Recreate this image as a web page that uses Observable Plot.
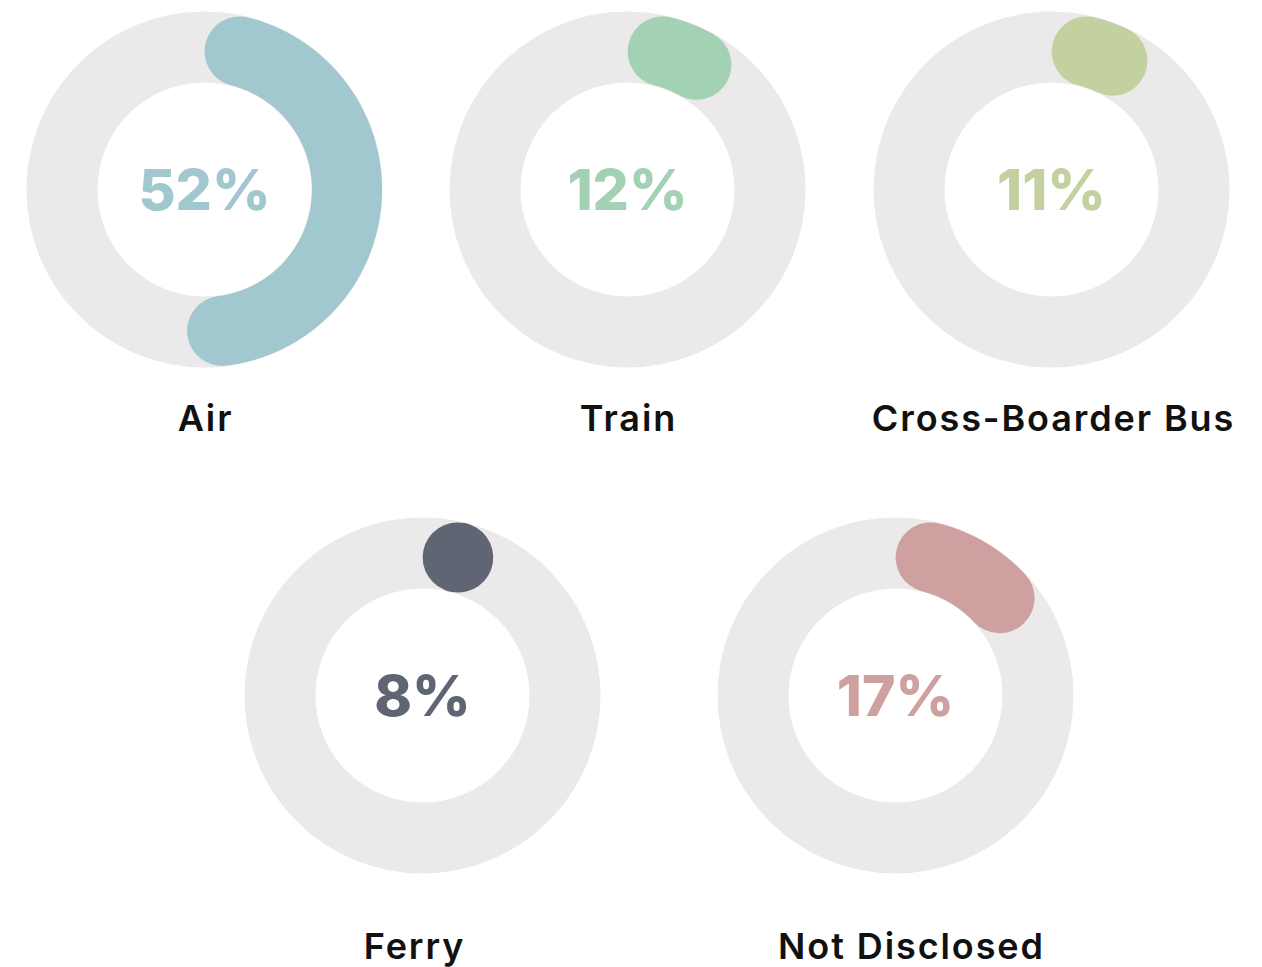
<!DOCTYPE html>
<html>
<head>
<meta charset="utf-8">
<script src="https://cdn.jsdelivr.net/npm/d3@7"></script>
<script src="https://cdn.jsdelivr.net/npm/@observablehq/plot@0.6"></script>
<style>
  html, body { margin: 0; padding: 0; background: #ffffff; }
  #chart svg { display: block; }
  #chart .mode-label text { letter-spacing: 1.9px; }
</style>
</head>
<body>
<div id="chart"></div>
<script>
// Share of travellers by mode of transport
const categories = ["Air", "Train", "Cross-Boarder Bus", "Ferry", "Not Disclosed"];
const shares = [52, 12, 11, 8, 17];
const colors = ["#a1c8cf", "#a3d1b4", "#c3d1a0", "#5f6573", "#cfa0a0"];

// Layout of the gauges on the page (plot units = pixels)
const W = 1262, H = 967;
const centerX = [204, 627, 1051, 422, 895];
const centerY = [189, 189, 189, 695, 695];
const labelX = [205, 628, 1053, 414, 911];
const labelY = [419, 419, 419, 947, 947];
const ringRadius = 142.5;   // middle of the track
const ringWidth = 71;       // thickness of track and progress arc
const trackColor = "#ebe9ea";

const gauges = categories.map((name, i) => ({
  name, share: shares[i], color: colors[i],
  cx: centerX[i], cy: centerY[i], lx: labelX[i], ly: labelY[i]
}));

// Progress arc: clockwise from 12 o'clock; the round caps are kept inside
// the [0, share] sweep so the arc's outer ends sit exactly on 0 and the value.
const capAngle = (ringWidth / 2) / ringRadius;
const arcPoints = gauges.flatMap(g => {
  const sweep = g.share / 100 * 2 * Math.PI;
  const a0 = capAngle;
  const a1 = Math.max(a0, sweep - capAngle);
  const n = 120;
  return d3.range(n + 1).map(k => {
    const a = a0 + (a1 - a0) * k / n;
    return {name: g.name, color: g.color,
            x: g.cx + ringRadius * Math.sin(a),
            y: g.cy - ringRadius * Math.cos(a)};
  });
});

const chart = Plot.plot({
  width: W,
  height: H,
  margin: 0,
  x: {domain: [0, W], range: [0, W], axis: null},
  y: {domain: [0, H], range: [0, H], axis: null},
  style: {background: "#ffffff"},
  marks: [
    // grey track
    Plot.dot(gauges, {x: "cx", y: "cy", r: ringRadius, stroke: trackColor,
                      strokeWidth: ringWidth, fill: "none"}),
    // coloured progress arc
    Plot.line(arcPoints, {x: "x", y: "y", z: "name", stroke: "color",
                          strokeWidth: ringWidth - 1, strokeLinecap: "round",
                          strokeLinejoin: "round", curve: "linear"}),
    // percentage in the middle
    Plot.text(gauges, {x: "cx", y: d => d.cy + 2, text: d => `${d.share}%`, fill: "color",
                       fontSize: 57, fontWeight: 800, fontFamily: "Inter",
                       lineAnchor: "middle", textAnchor: "middle"}),
    // category name below
    Plot.text(gauges, {x: "lx", y: "ly", text: "name", fill: "#111111",
                       fontSize: 36, fontWeight: 600, fontFamily: "Inter",
                       className: "mode-label",
                       lineAnchor: "middle", textAnchor: "middle"})
  ]
});

document.getElementById("chart").append(chart);
</script>
</body>
</html>
